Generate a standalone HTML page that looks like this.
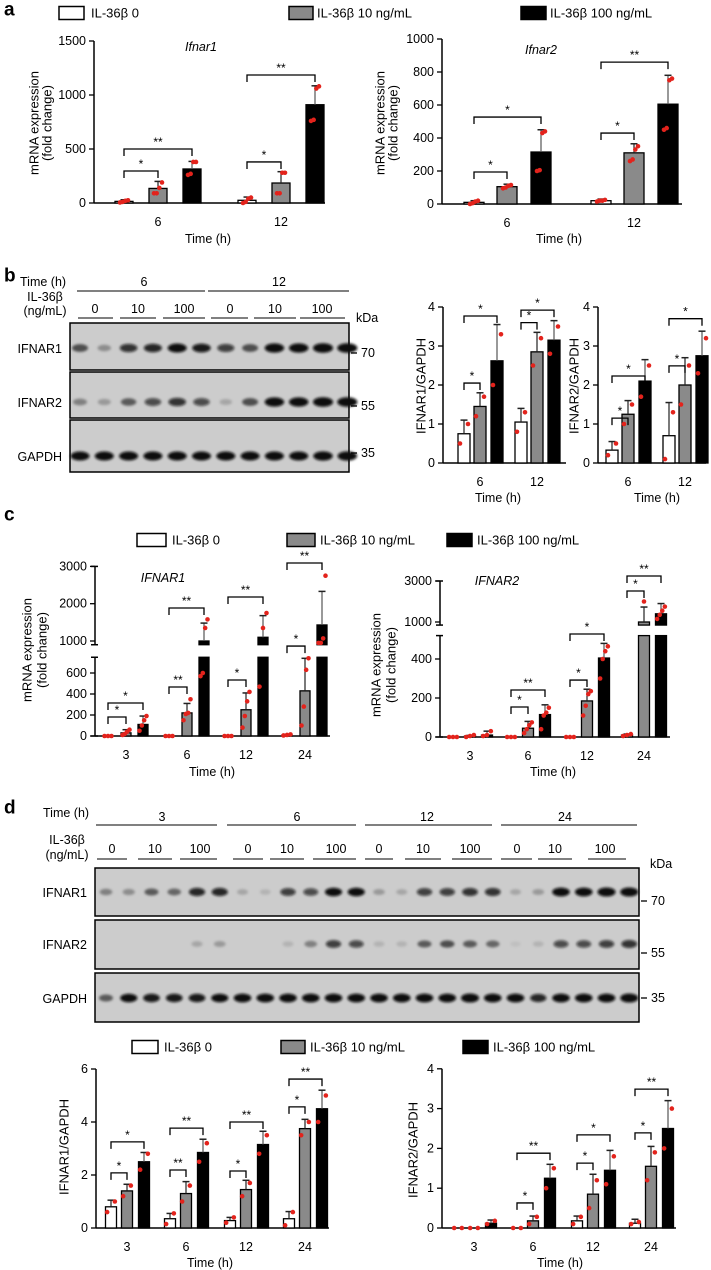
<!DOCTYPE html>
<html><head><meta charset="utf-8"><style>
html,body{margin:0;padding:0;background:#fff;}
svg{display:block;font-family:"Liberation Sans",Arial,sans-serif;}
</style></head><body>
<svg id="fig" width="711" height="1270" viewBox="0 0 711 1270" xmlns="http://www.w3.org/2000/svg">
<defs><filter id="blur" x="-50%" y="-100%" width="200%" height="300%"><feGaussianBlur stdDeviation="1.2"/></filter></defs>
<rect x="0" y="0" width="711" height="1270" fill="#fff"/>
</svg>
<script>
// ===== DATA =====
// Panel a - Ifnar1
const aCats=['6','12'];
const a1Ticks=[0,500,1000,1500];
const a1M0=[15,25], a1M1=[135,185], a1M2=[315,910];
const a1E0=[30,55], a1E1=[200,290], a1E2=[385,1085];
const a1P0=[[5,10,20,25],[0,10,40,50]], a1P1=[[90,90,140,190],[90,90,280,280]], a1P2=[[260,270,380,380],[760,770,1060,1080]];
const a1Sig=[[0,0,1,296,'*'],[0,0,2,500,'**'],[1,0,1,380,'*'],[1,0,2,1185,'**']];
// Panel a - Ifnar2
const a2Ticks=[0,200,400,600,800,1000];
const a2M0=[10,20], a2M1=[105,310], a2M2=[315,605];
const a2E0=[20,30], a2E1=[120,365], a2E2=[450,780];
const a2P0=[[0,5,15,20],[15,20,20,25]], a2P1=[[95,100,110,115],[260,270,330,350]], a2P2=[[200,205,430,440],[450,460,750,760]];
const a2Sig=[[0,0,1,194,'*'],[0,0,2,527,'*'],[1,0,1,430,'*'],[1,0,2,860,'**']];
// Panel b
const bCats=['6','12'];
const bTicks=[0,1,2,3,4];
const b1M0=[0.75,1.05], b1M1=[1.45,2.85], b1M2=[2.62,3.15];
const b1E0=[1.1,1.4], b1E1=[1.8,3.35], b1E2=[3.55,3.65];
const b1P0=[[0.5,1.0],[0.8,1.3]], b1P1=[[1.2,1.7],[2.5,3.2]], b1P2=[[2.0,3.3],[2.8,3.5]];
const b1Sig=[[0,0,1,2.05,'*'],[0,0,2,3.77,'*'],[1,0,1,3.6,'*'],[1,0,2,3.92,'*']];
const b2M0=[0.33,0.7], b2M1=[1.25,2.0], b2M2=[2.1,2.75];
const b2E0=[0.55,1.55], b2E1=[1.6,2.7], b2E2=[2.65,3.38];
const b2P0=[[0.2,0.5],[0.1,1.3]], b2P1=[[1.0,1.5],[1.5,2.5]], b2P2=[[1.7,2.5],[2.3,3.2]];
const b2Sig=[[0,0,1,1.15,'*'],[0,0,2,2.23,'*'],[1,0,1,2.49,'*'],[1,0,2,3.7,'*']];
const bBand1=[0.5,0.25,0.65,0.7,0.8,0.75,0.6,0.5,0.85,0.85,0.9,0.9];
const bBand2=[0.3,0.2,0.45,0.55,0.65,0.55,0.15,0.5,0.85,0.85,0.9,0.9];
const bBand3=[0.8,0.8,0.8,0.8,0.8,0.8,0.8,0.8,0.8,0.8,0.85,0.85];
// Panel c
const cCats=['3','6','12','24'];
const c1TicksLow=[0,200,400,600], c1TicksHigh=[1000,2000,3000];
const c1M0=[0,0,0,10], c1M1=[30,220,250,430], c1M2=[110,1000,1100,1430];
const c1E0=[5,5,5,15], c1E1=[60,310,410,740], c1E2=[190,1480,1680,2330];
const c1P0=[[0,0,0],[0,0,0],[0,0,0],[5,10,15]], c1P1=[[10,20,40,60],[150,210,220,350],[80,190,330,420],[100,280,630,740]], c1P2=[[50,100,150,190],[570,600,1350,1580],[470,1350,1750],[950,950,1070,2750]];
const c1Sig=[[0,0,1,181,'*'],[0,0,2,314,'*'],[1,0,1,467,'**'],[1,0,2,1885,'**'],[2,0,1,533,'*'],[2,0,2,2180,'**'],[3,0,1,884,'*'],[3,0,2,3091,'**']];
const c2TicksLow=[0,200,400], c2TicksHigh=[1000,3000];
const c2M0=[0,0,0,10], c2M1=[5,45,185,1000], c2M2=[10,115,405,1400];
const c2E0=[0,0,0,15], c2E1=[8,80,245,1730], c2E2=[30,165,480,1900];
const c2P0=[[0,0,0],[0,0,0],[0,0,0],[5,10,15]], c2P1=[[0,5,10],[20,40,60,75],[110,160,220,235],[2000]], c2P2=[[5,10,30],[40,110,125,150],[300,400,440,465],[1150,1350,1550,1750]];
const c2Sig=[[1,0,1,154,'*'],[1,0,2,241,'**'],[2,0,1,292,'*'],[2,0,2,570,'*'],[3,0,1,2512,'*'],[3,0,2,3244,'**']];
// Panel d
const dCats=['3','6','12','24'];
const d1Ticks=[0,2,4,6];
const d1M0=[0.8,0.35,0.28,0.35], d1M1=[1.4,1.3,1.45,3.75], d1M2=[2.5,2.85,3.15,4.5];
const d1E0=[1.05,0.55,0.4,0.62], d1E1=[1.65,1.75,1.8,4.1], d1E2=[2.85,3.35,3.65,5.2];
const d1P0=[[0.6,1.0],[0.15,0.55],[0.2,0.4],[0.1,0.6]], d1P1=[[1.2,1.6],[1.0,1.6],[1.2,1.7],[3.5,4.0]], d1P2=[[2.2,2.8],[2.5,3.2],[2.8,3.5],[4.0,5.0]];
const d1Sig=[[0,0,1,2.08,'*'],[0,0,2,3.25,'*'],[1,0,1,2.19,'**'],[1,0,2,3.77,'**'],[2,0,1,2.15,'*'],[2,0,2,4.0,'**'],[3,0,1,4.57,'*'],[3,0,2,5.62,'**']];
const d2Ticks=[0,1,2,3,4];
const d2M0=[0,0,0.18,0.12], d2M1=[0,0.18,0.85,1.55], d2M2=[0.12,1.25,1.45,2.5];
const d2E0=[0,0,0.3,0.22], d2E1=[0,0.3,1.35,2.05], d2E2=[0.2,1.6,1.95,3.2];
const d2P0=[[0,0],[0,0],[0.1,0.28],[0.1,0.15]], d2P1=[[0,0],[0.1,0.28],[0.5,1.2],[1.2,1.9]], d2P2=[[0.1,0.18],[1.0,1.5],[1.1,1.8],[2.0,3.0]];
const d2Sig=[[1,0,1,0.63,'*'],[1,0,2,1.88,'**'],[2,0,1,1.63,'*'],[2,0,2,2.34,'*'],[3,0,1,2.39,'*'],[3,0,2,3.49,'**']];
const dBand1=[0.3,0.25,0.45,0.4,0.7,0.7,0.15,0.1,0.6,0.55,0.8,0.8,0.2,0.15,0.6,0.6,0.65,0.65,0.15,0.2,0.85,0.85,0.9,0.9];
const dBand2=[0,0,0,0,0.15,0.2,0,0,0.1,0.3,0.6,0.55,0.1,0.1,0.45,0.5,0.45,0.4,0.05,0.1,0.55,0.55,0.6,0.65];
const dBand3=[0.45,0.8,0.75,0.75,0.75,0.8,0.85,0.85,0.85,0.85,0.85,0.85,0.85,0.85,0.85,0.85,0.9,0.85,0.85,0.7,0.85,0.85,0.85,0.9];

// ===== DRAWING =====
const NS='http://www.w3.org/2000/svg';
const svg=document.getElementById('fig');
const FILL=['#ffffff','#8a8a8a','#000000'];
function el(tag,attrs,parent){const e=document.createElementNS(NS,tag);for(const k in attrs)e.setAttribute(k,attrs[k]);(parent||svg).appendChild(e);return e;}
function txt(x,y,s,size,anchor,parent,extra){const t=el('text',Object.assign({x:x,y:y,'font-size':size,'text-anchor':anchor||'start','dominant-baseline':'central',fill:'#000'},extra||{}),parent);t.textContent=s;return t;}
function group(name){const g=el('g',{});

return g;}

function legend(y,xs,name){
  const g=group(name);
  const labels=['IL-36β 0','IL-36β 10 ng/mL','IL-36β 100 ng/mL'];
  for(let i=0;i<3;i++){
    const r=el('rect',{x:xs[i][0],y:y-6.5,width:xs[i][1]-xs[i][0],height:13,fill:FILL[i],stroke:'#000','stroke-width':1.5},g);
    
    
    const t=txt(xs[i][2],y,labels[i],13,'start',g);
    
    
  }
}

function chart(o){
  const g=group(o.name);
  const y=o.y, y0=y(0);
  o.segs.forEach(s=>{
    const l=el('line',{x1:o.x0,x2:o.x0,y1:y(s[0]),y2:y(s[1]),stroke:'#000','stroke-width':1.5},g);
    
    
    if(o.segs.length>1){
      el('line',{x1:o.x0-4,x2:o.x0+3,y1:y(s[0]),y2:y(s[0]),stroke:'#000','stroke-width':1.5},g);
      el('line',{x1:o.x0-4,x2:o.x0+3,y1:y(s[1]),y2:y(s[1]),stroke:'#000','stroke-width':1.5},g);
    }
  });
  o.ticks.forEach(v=>{
    el('line',{x1:o.x0-5,x2:o.x0,y1:y(v),y2:y(v),stroke:'#000','stroke-width':1.3},g);
    const t=txt(o.x0-8,y(v),String(v),12.5,'end',g);
    
    
  });
  const xa=el('line',{x1:o.x0,x2:o.xEnd,y1:y0,y2:y0,stroke:'#000','stroke-width':1.5},g);
  
  
  o.cats.forEach((c,i)=>{
    const t=txt(o.gx[i],y0+19,c,12.5,'middle',g);
    
    
  });
  for(let s=0;s<3;s++){
    o.cats.forEach((c,i)=>{
      const v=o.means[s][i], bx=o.gx[i]+o.off[s]-o.bw/2, cx=o.gx[i]+o.off[s];
      if(o.brk){
        const low=Math.min(v,o.brk[0]);
        if(low>0){const r=el('rect',{x:bx,y:y(low),width:o.bw,height:y0-y(low),fill:FILL[s],stroke:'#000','stroke-width':1.3},g);
        
        }
        if(v>o.brk[1]){const r2=el('rect',{x:bx,y:y(v),width:o.bw,height:y(o.brk[1])-y(v),fill:FILL[s],stroke:'#000','stroke-width':1.3},g);
        
        }
      } else if(v>0){
        const r=el('rect',{x:bx,y:y(v),width:o.bw,height:y0-y(v),fill:FILL[s],stroke:'#000','stroke-width':1.3},g);
        
        
      }
      const e=o.errs[s][i];
      if(e>v){
        const col=s==2?'#555':'#222';
        el('line',{x1:cx,x2:cx,y1:y(v),y2:y(e),stroke:col,'stroke-width':1.2},g);
        const cap=el('line',{x1:cx-3.5,x2:cx+3.5,y1:y(e),y2:y(e),stroke:'#222','stroke-width':1.5},g);
        
        
      }
      const pts=o.pts[s][i], n=pts.length;
      pts.forEach((p,k)=>{
        const dx=n>1?(k/(n-1)-0.5)*Math.min(o.bw*0.7,8):0;
        const d=el('circle',{cx:cx+dx,cy:y(p),r:2.3,fill:'#e3231c'},g);
        
        
      });
    });
  }
  o.sig.forEach(q=>{
    const x1=o.gx[q[0]]+o.off[q[1]], x2=o.gx[q[0]]+o.off[q[2]], yy=y(q[3]);
    const p=el('path',{d:`M${x1},${yy+7}V${yy}H${x2}V${yy+7}`,fill:'none',stroke:'#000','stroke-width':1.3},g);
    
    
    const t=txt((x1+x2)/2,yy-7,q[4],12,'middle',g);
    
    
  });
  if(o.title){const t=txt(o.title[0],o.title[1],o.title[2],12.5,'middle',g,{'font-style':'italic'});
  
  }
  const xt=txt(o.xt[0],o.xt[1],'Time (h)',12.5,'middle',g);
  
  
  o.yt.forEach(a=>{
    const t=txt(a[0],a[1],a[2],13,'middle',g,{transform:`rotate(-90 ${a[0]} ${a[1]})`});
    
    
  });
}

function blot(name,x,ys,lanes0,dx,bands,labels,kda,bw,bh){
  const g=group(name);
  ys.forEach((b,j)=>{
    const r=el('rect',{x:x[0],y:b[0],width:x[1]-x[0],height:b[1]-b[0],fill:'#cccccc',stroke:'#000','stroke-width':1.5},g);
    
    
    const by=b[2];
    bands[j].forEach((v,i)=>{
      if(v<=0.02)return;
      const e=el('ellipse',{cx:lanes0+i*dx,cy:by,rx:bw*(0.55+0.5*v),ry:bh*(0.6+0.5*v),fill:'#0a0a0a','fill-opacity':Math.min(1,v*1.25),filter:'url(#blur)'},g);
      
      
    });
    const t=txt(x[0]-8,b[2]+1,labels[j],12.5,'end',g);
    
    
    el('line',{x1:x[1]+2,x2:x[1]+8,y1:kda[j][0],y2:kda[j][0],stroke:'#000','stroke-width':1.3},g);
    const k=txt(x[1]+12,kda[j][0],kda[j][1],12.5,'start',g);
    
    
  });
}

function header(name,rows){
  const g=group(name);
  rows.forEach(r=>{
    if(r.t!==undefined){const t=txt(r.x,r.y,r.t,r.s||12.5,r.a||'middle',g,r.b?{'font-weight':'bold'}:{});
    
    }
    if(r.l){const l=el('line',{x1:r.l[0],x2:r.l[1],y1:r.l[2],y2:r.l[2],stroke:'#000','stroke-width':1.1},g);
    
    }
  });
}

[['a',4,10],['b',4,276],['c',4,515],['d',4,808]].forEach(p=>{
  const t=txt(p[1],p[2],p[0],19,'start',svg,{'font-weight':'bold'});
  
  
});

// ===== Panel a =====
legend(13,[[59,84,91],[289,313,317],[521,546,550]],'legend-a');
chart({name:'chart-a-ifnar1',x0:94,xEnd:325,y:v=>203-v*0.108,segs:[[0,1500]],ticks:a1Ticks,cats:aCats,gx:[158,281],off:[-34,0,34],bw:18,
  means:[a1M0,a1M1,a1M2],errs:[a1E0,a1E1,a1E2],pts:[a1P0,a1P1,a1P2],sig:a1Sig,title:[201,47,'Ifnar1'],xt:[208,239],yt:[[34,123,'mRNA expression'],[47,123,'(fold change)']]});
chart({name:'chart-a-ifnar2',x0:442,xEnd:682,y:v=>204-v*0.165,segs:[[0,1000]],ticks:a2Ticks,cats:aCats,gx:[507,634],off:[-33,0,34],bw:20,
  means:[a2M0,a2M1,a2M2],errs:[a2E0,a2E1,a2E2],pts:[a2P0,a2P1,a2P2],sig:a2Sig,title:[541,50,'Ifnar2'],xt:[559,239],yt:[[380,123,'mRNA expression'],[393,123,'(fold change)']]});

// ===== Panel b =====
header('blot-b-header',[
  {x:20,y:282,t:'Time (h)',a:'start'},{x:144,y:282,t:'6'},{x:279,y:282,t:'12'},
  {l:[77,205,291]},{l:[208,349,291]},
  {x:45,y:297,t:'IL-36β'},{x:45,y:311,t:'(ng/mL)'},
  {x:95,y:309,t:'0'},{x:138,y:309,t:'10'},{x:184,y:309,t:'100'},{x:230,y:309,t:'0'},{x:275,y:309,t:'10'},{x:322,y:309,t:'100'},
  {l:[78,113,318]},{l:[120,156,318]},{l:[163,205,318]},{l:[211,248,318]},{l:[254,296,318]},{l:[300,345,318]},
  {x:356,y:318,t:'kDa',a:'start'}
]);
blot('blot-b',[70,349],[[323,370,348],[372,418,402],[420,472,456]],80,24.3,[bBand1,bBand2,bBand3],['IFNAR1','IFNAR2','GAPDH'],[[353,'70'],[406,'55'],[453,'35']],10,4.5);
chart({name:'chart-b-ifnar1',x0:443,xEnd:566,y:v=>463-v*39,segs:[[0,4]],ticks:bTicks,cats:bCats,gx:[480,537],off:[-16,0,17],bw:12,
  means:[b1M0,b1M1,b1M2],errs:[b1E0,b1E1,b1E2],pts:[b1P0,b1P1,b1P2],sig:b1Sig,xt:[498,498],yt:[[421,386,'IFNAR1/GAPDH']]});
chart({name:'chart-b-ifnar2',x0:598,xEnd:706,y:v=>463-v*39,segs:[[0,4]],ticks:bTicks,cats:bCats,gx:[628,685],off:[-16,0,17],bw:12,
  means:[b2M0,b2M1,b2M2],errs:[b2E0,b2E1,b2E2],pts:[b2P0,b2P1,b2P2],sig:b2Sig,xt:[657,498],yt:[[574,386,'IFNAR2/GAPDH']]});

// ===== Panel c =====
legend(540,[[137,166,172],[287,315,320],[447,472,477]],'legend-c');
function brokenY(base,sLow,lowMax,hiMin,yHiRef,sHi){
  const yl=v=>base-v*sLow, yh=v=>yHiRef-(v-1000)*sHi;
  return v=>v<=lowMax?yl(v):(v>=hiMin?yh(v):yl(lowMax)+(yh(hiMin)-yl(lowMax))*(v-lowMax)/(hiMin-lowMax));
}
chart({name:'chart-c-ifnar1',x0:95,xEnd:330,y:brokenY(736,0.105,750,900,641,0.0373),segs:[[0,750],[900,3000]],brk:[750,900],ticks:c1TicksLow.concat(c1TicksHigh),cats:cCats,gx:[126,187,246,305],off:[-18,0,17],bw:10,
  means:[c1M0,c1M1,c1M2],errs:[c1E0,c1E1,c1E2],pts:[c1P0,c1P1,c1P2],sig:c1Sig,title:[163,578,'IFNAR1'],xt:[212,772],yt:[[27,650,'mRNA expression'],[42,650,'(fold change)']]});
chart({name:'chart-c-ifnar2',x0:440,xEnd:670,y:brokenY(737,0.195,520,850,622,0.0205),segs:[[0,520],[850,3000]],brk:[520,850],ticks:c2TicksLow.concat(c2TicksHigh),cats:cCats,gx:[470,528,587,644],off:[-17,0,17],bw:11,
  means:[c2M0,c2M1,c2M2],errs:[c2E0,c2E1,c2E2],pts:[c2P0,c2P1,c2P2],sig:c2Sig,title:[497,581,'IFNAR2'],xt:[553,772],yt:[[376,665,'mRNA expression'],[391,665,'(fold change)']]});

// ===== Panel d =====
header('blot-d-header',[
  {x:43,y:813,t:'Time (h)',a:'start'},{x:162,y:817,t:'3'},{x:297,y:817,t:'6'},{x:427,y:817,t:'12'},{x:565,y:817,t:'24'},
  {l:[96,217,825]},{l:[227,356,825]},{l:[365,492,825]},{l:[501,637,825]},
  {x:67,y:840,t:'IL-36β'},{x:67,y:855,t:'(ng/mL)'},
  {x:112,y:849,t:'0'},{x:155,y:849,t:'10'},{x:200,y:849,t:'100'},
  {x:248,y:849,t:'0'},{x:287,y:849,t:'10'},{x:336,y:849,t:'100'},
  {x:379,y:849,t:'0'},{x:423,y:849,t:'10'},{x:470,y:849,t:'100'},
  {x:517,y:849,t:'0'},{x:555,y:849,t:'10'},{x:605,y:849,t:'100'},
  {l:[97,127,859]},{l:[138,172,859]},{l:[180,217,859]},{l:[233,263,859]},{l:[270,304,859]},{l:[313,356,859]},
  {l:[365,393,859]},{l:[405,441,859]},{l:[452,492,859]},{l:[501,532,859]},{l:[538,572,859]},{l:[588,626,859]},
  {x:650,y:864,t:'kDa',a:'start'}
]);
blot('blot-d',[95,639],[[868,916,892],[920,969,944],[973,1022,998]],106,22.75,[dBand1,dBand2,dBand3],['IFNAR1','IFNAR2','GAPDH'],[[901,'70'],[953,'55'],[998,'35']],9,4.3);
legend(1047,[[132,158,164],[281,305,310],[463,488,493]],'legend-d');
chart({name:'chart-d-ifnar1',x0:96,xEnd:329,y:v=>1228-v*26.5,segs:[[0,6]],ticks:d1Ticks,cats:dCats,gx:[127,186,246,305],off:[-16,0,17],bw:11,
  means:[d1M0,d1M1,d1M2],errs:[d1E0,d1E1,d1E2],pts:[d1P0,d1P1,d1P2],sig:d1Sig,xt:[210,1263],yt:[[64,1147,'IFNAR1/GAPDH']]});
chart({name:'chart-d-ifnar2',x0:442,xEnd:676,y:v=>1228-v*39.8,segs:[[0,4]],ticks:d2Ticks,cats:dCats,gx:[474,533,593,651],off:[-16,0,17],bw:11,
  means:[d2M0,d2M1,d2M2],errs:[d2E0,d2E1,d2E2],pts:[d2P0,d2P1,d2P2],sig:d2Sig,xt:[560,1263],yt:[[413,1150,'IFNAR2/GAPDH']]});
</script>
</body></html>
